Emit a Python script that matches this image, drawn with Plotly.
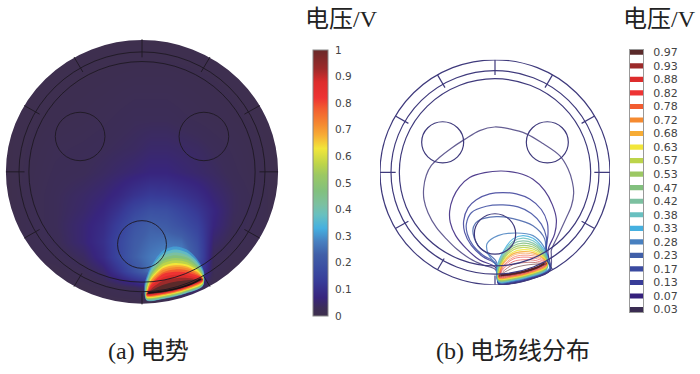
import math
import plotly.graph_objects as go

W, H = 700, 374

# ---- colours and legend values ----
LEVELS = ["0.97", "0.93", "0.88", "0.82", "0.78", "0.72", "0.68", "0.63", "0.57", "0.53",
          "0.47", "0.42", "0.38", "0.33", "0.28", "0.23", "0.17", "0.13", "0.07", "0.03"]
LEVEL_COLORS = ["#5a2a2a", "#9c2a2a", "#dd2c2c", "#ee3333", "#f25c30", "#f58a30", "#f7ac35",
                "#f2e63a", "#bcd44a", "#9cc863", "#82c07e", "#7cc0a0", "#68c0c0", "#45b0e0",
                "#4880c0", "#405fa8", "#3a4aa0", "#383c98", "#35207c", "#3a2c52"]
COLORBAR_TICKS = [0, 0.1, 0.2, 0.3, 0.4, 0.5, 0.6, 0.7, 0.8, 0.9, 1]
COLORSCALE = [[0, "#3e2f4e"], [0.03, "#3c2d58"], [0.07, "#38257e"], [0.13, "#383c98"],
              [0.17, "#3a4aa0"], [0.23, "#405fa8"], [0.28, "#4880c0"], [0.33, "#45b0e0"],
              [0.38, "#68c0c0"], [0.42, "#7cc0a0"], [0.47, "#82c07e"], [0.53, "#9cc863"],
              [0.57, "#bcd44a"], [0.63, "#f2e63a"], [0.68, "#f7ac35"], [0.72, "#f58a30"],
              [0.78, "#f25c30"], [0.82, "#ee3333"], [0.88, "#dd2c2c"], [0.93, "#9c2a2a"],
              [1, "#6a2a2a"]]

# ---- potential field, background part (estimated by eye) ----
FIELD_X = [31, 36, 156, 226, 276, 316, 356, 396, 436, 476, 516, 556, 606, 716, 721]
FIELD_Y = [-9, -4, 196, 276, 336, 396, 436, 476, 516, 556, 596, 636, 676, 681]
FIELD_Z = [
    [0, 0, 0, 0, 0, 0, 0, 0, 0, 0, 0, 0, 0, 0, 0],
    [0, 0, 0, 0, 0, 0, 0, 0, 0, 0, 0, 0, 0, 0, 0],
    [0, 0, .01, .015, .02, .025, .03, .03, .03, .025, .02, .015, .01, 0, 0],
    [0, 0, .02, .025, .03, .035, .04, .05, .05, .045, .04, .03, .02, 0, 0],
    [0, 0, .025, .03, .04, .05, .06, .07, .07, .06, .05, .04, .025, 0, 0],
    [0, 0, .03, .045, .06, .08, .11, .13, .125, .11, .09, .06, .035, 0, 0],
    [0, 0, .03, .05, .075, .11, .16, .19, .185, .155, .12, .075, .035, 0, 0],
    [0, 0, .03, .06, .09, .14, .2, .23, .22, .19, .15, .07, .03, 0, 0],
    [0, 0, .025, .06, .1, .16, .22, .25, .26, .25, .18, .05, .02, 0, 0],
    [0, 0, .015, .04, .09, .16, .23, .27, .30, .30, .2, .03, .01, 0, 0],
    [0, 0, 0, .02, .05, .11, .19, .26, .3, .3, .17, .02, 0, 0, 0],
    [0, 0, 0, 0, .01, .02, .03, .06, .08, .08, .05, 0, 0, 0, 0],
    [0, 0, 0, 0, 0, 0, 0, 0, 0, 0, 0, 0, 0, 0, 0],
    [0, 0, 0, 0, 0, 0, 0, 0, 0, 0, 0, 0, 0, 0, 0],
]

# ---- traced open isolines, low levels: (x list, y list) ----
LINE_003_X = [378, 340, 300, 262, 230, 200, 175, 163, 162, 170, 185, 210, 245, 285, 330, 375, 420, 470, 520, 570,
              595, 608, 612, 605, 590, 570, 545, 545]
LINE_003_Y = [635, 620, 600, 572, 540, 505, 460, 420, 385, 345, 315, 290, 262, 235, 208, 197, 203, 218, 248, 285,
              325, 365, 400, 440, 475, 520, 575, 590]
LINE_007_X = [378, 330, 290, 258, 242, 240, 250, 270, 300, 345, 395, 445, 490, 525, 548, 560, 555, 535]
LINE_007_Y = [628, 605, 570, 530, 490, 455, 415, 380, 352, 337, 332, 338, 357, 392, 435, 480, 525, 575]
LINE_013_X = [378, 340, 305, 285, 282, 295, 320, 360, 400, 440, 480, 515, 533, 535, 530]
LINE_013_Y = [618, 595, 560, 520, 485, 445, 420, 402, 398, 402, 418, 450, 490, 525, 575]
LINE_017_X = [378, 340, 310, 293, 290, 305, 350, 400, 445, 485, 515, 530, 530]
LINE_017_Y = [615, 590, 560, 525, 495, 460, 440, 436, 442, 462, 495, 535, 578]
LINE_023_X = [380, 325, 310, 325, 380, 430, 490, 525, 528]
LINE_023_Y = [610, 560, 510, 485, 472, 478, 500, 540, 585]
LINE_028_X = [383, 355, 352, 385, 440, 490, 520, 533]
LINE_028_Y = [628, 585, 555, 530, 522, 530, 560, 595]

# bottom stations under the electrode for those six levels
LOW_BOTTOM_X = [540, 480, 430, 388]
BOTTOM_003 = [638, 664, 676, 680]
BOTTOM_007 = [637, 663, 675, 679]
BOTTOM_013 = [635, 661, 673, 677]
BOTTOM_017 = [634, 660, 672, 676]
BOTTOM_023 = [632, 658, 670, 674]
BOTTOM_028 = [630, 657, 669, 673]

# ---- traced closed isolines, high levels: y at fixed x stations ----
ARCH_X = [400, 430, 460, 490, 515]
ARCH_Y = {
    "0.33": [580, 540, 530, 538, 562], "0.38": [586, 548, 538, 546, 568],
    "0.42": [592, 555, 546, 553, 573], "0.47": [597, 562, 553, 559, 578],
    "0.53": [602, 568, 560, 565, 583], "0.57": [606, 574, 566, 571, 587],
    "0.63": [611, 581, 573, 577, 591], "0.68": [615, 586, 579, 582, 595],
    "0.72": [619, 591, 584, 587, 598], "0.78": [624, 597, 590, 592, 602],
    "0.82": [628, 602, 596, 598, 606], "0.88": [633, 610, 604, 605, 611],
    "0.93": [640, 619, 613, 612, 615], "0.97": [645, 630, 622, 618, 617],
}
FOOT_LEFT = {
    "0.33": (382, 632), "0.38": (384, 634), "0.42": (385, 636), "0.47": (386, 637),
    "0.53": (387, 638), "0.57": (388, 640), "0.63": (389, 641), "0.68": (390, 642),
    "0.72": (390, 643), "0.78": (391, 644), "0.82": (392, 645), "0.88": (392, 647),
    "0.93": (393, 648), "0.97": (394, 650),
}
FOOT_RIGHT = {
    "0.33": (533, 595), "0.38": (532, 598), "0.42": (531, 600), "0.47": (530, 602),
    "0.53": (530, 604), "0.57": (529, 606), "0.63": (529, 607), "0.68": (528, 608),
    "0.72": (528, 609), "0.78": (527, 610), "0.82": (527, 611), "0.88": (526, 612),
    "0.93": (526, 613), "0.97": (525, 614),
}
BOTTOM_X = [530, 480, 430, 388]
BOTTOM_Y = {
    "0.33": [634, 655, 667, 671], "0.38": [633, 654, 666, 670], "0.42": [632, 653, 665, 669],
    "0.47": [630, 651, 663, 667], "0.53": [628, 650, 662, 666], "0.57": [627, 648, 660, 664],
    "0.63": [626, 647, 659, 663], "0.68": [623, 645, 657, 661], "0.72": [622, 644, 656, 660],
    "0.78": [620, 642, 654, 658], "0.82": [619, 641, 653, 657], "0.88": [617, 639, 651, 655],
    "0.93": [616, 638, 650, 654], "0.97": [615, 637, 649, 653],
}
ELECTRODE_X = [392, 420, 450, 480, 505, 525]
ELECTRODE_Y = [651, 648, 643, 635, 626, 615]

# ---- device geometry ----
CENTER = (376, 336)
RING_RADII = [345, 312, 287]
HOLES = [(219, 244, 63), (533, 244, 63), (376, 525, 62)]
SPOKE_ANGLES = [0, 30, 60, 90, 120, 150, 180, 210, 240, 270, 300, 330]
SPOKE_INNER = [298, 300, 300, 298, 300, 310, 316, 305, 300, 298, 300, 300]

CAPTION_A = "(a) 电势"
CAPTION_B = "(b) 电场线分布"
BAR_TITLE = "电压/V"
FONT = "Liberation Serif, Noto Sans CJK SC, serif"
HALO_OPACITY = {"0.33": 0.6, "0.38": 0.85}
THIN_LEVELS = ["0.97", "0.93", "0.88", "0.82", "0.78", "0.72"]


def level_path(lv):
    color = LEVEL_COLORS[LEVELS.index(lv)]
    if lv in ARCH_Y:
        xs = [FOOT_LEFT[lv][0]] + ARCH_X + [FOOT_RIGHT[lv][0]] + BOTTOM_X + [FOOT_LEFT[lv][0]]
        ys = [FOOT_LEFT[lv][1]] + ARCH_Y[lv] + [FOOT_RIGHT[lv][1]] + BOTTOM_Y[lv] + [FOOT_LEFT[lv][1]]
    else:
        table = {"0.03": (LINE_003_X, LINE_003_Y, BOTTOM_003), "0.07": (LINE_007_X, LINE_007_Y, BOTTOM_007),
                 "0.13": (LINE_013_X, LINE_013_Y, BOTTOM_013), "0.17": (LINE_017_X, LINE_017_Y, BOTTOM_017),
                 "0.23": (LINE_023_X, LINE_023_Y, BOTTOM_023), "0.28": (LINE_028_X, LINE_028_Y, BOTTOM_028)}
        lx, ly, by = table[lv]
        xs = lx + LOW_BOTTOM_X + [lx[0]]
        ys = ly + by + [ly[0]]
    return xs, ys, color


fig = go.Figure()

# left panel: smooth background, then filled high levels
fig.add_trace(go.Heatmap(
    x=FIELD_X, y=FIELD_Y, z=FIELD_Z, zmin=0, zmax=1, zsmooth="best",
    colorscale=COLORSCALE, xaxis="x", yaxis="y", hoverinfo="skip",
    colorbar=dict(x=313 / W, xanchor="left", xref="paper", y=1 - 47 / H, yanchor="top", yref="paper",
                  len=266, lenmode="pixels", thickness=15, thicknessmode="pixels",
                  xpad=0, ypad=0, tickvals=COLORBAR_TICKS, ticktext=[str(t) for t in COLORBAR_TICKS],
                  ticks="outside", ticklen=5, tickcolor="rgba(0,0,0,0)", outlinecolor="#888", outlinewidth=1,
                  tickfont=dict(family="DejaVu Sans", size=10.5, color="#444")),
))
for lv in reversed(LEVELS[:14]):
    xs, ys, color = level_path(lv)
    fig.add_trace(go.Scatter(x=xs, y=ys, mode="lines", fill="toself", fillcolor=color,
                             opacity=HALO_OPACITY.get(lv, 1),
                             line=dict(width=0, color=color, shape="spline", smoothing=0.8),
                             xaxis="x", yaxis="y", hoverinfo="skip", showlegend=False))
fig.add_trace(go.Scatter(x=ELECTRODE_X, y=ELECTRODE_Y, mode="lines",
                         line=dict(color="#1c0f14", width=1.6, shape="spline"),
                         xaxis="x", yaxis="y", hoverinfo="skip", showlegend=False))

# right panel: isolines
for lv in reversed(LEVELS):
    xs, ys, color = level_path(lv)
    if lv == "0.03":
        color = "#4a4280"
    fig.add_trace(go.Scatter(x=xs, y=ys, mode="lines", opacity=0.85,
                             line=dict(width=0.7 if lv in THIN_LEVELS else 1.2, color=color,
                                       shape="spline", smoothing=1.0),
                             xaxis="x2", yaxis="y2", hoverinfo="skip", showlegend=False))
fig.add_trace(go.Scatter(x=ELECTRODE_X, y=ELECTRODE_Y, mode="lines",
                         line=dict(color="#5a1f22", width=2.2, shape="spline"),
                         xaxis="x2", yaxis="y2", hoverinfo="skip", showlegend=False))

# right colour legend
fig.add_trace(go.Bar(y=LEVELS, x=[1] * len(LEVELS), orientation="h", width=0.38,
                     marker=dict(color=LEVEL_COLORS, line=dict(width=0)),
                     xaxis="x3", yaxis="y3", hoverinfo="skip", showlegend=False))

shapes = []
# white mask around the left disc
mask_r = 434
shapes.append(dict(type="circle", xref="x", yref="y", layer="above",
                   x0=CENTER[0] - mask_r, x1=CENTER[0] + mask_r, y0=CENTER[1] - mask_r, y1=CENTER[1] + mask_r,
                   line=dict(color="white", width=70), fillcolor="rgba(0,0,0,0)"))


def outlines(xr, yr, color, width, rings):
    out = []
    for r in rings:
        out.append(dict(type="circle", xref=xr, yref=yr, layer="above",
                        x0=CENTER[0] - r, x1=CENTER[0] + r, y0=CENTER[1] - r, y1=CENTER[1] + r,
                        line=dict(color=color, width=width)))
    for cx, cy, r in HOLES:
        out.append(dict(type="circle", xref=xr, yref=yr, layer="above",
                        x0=cx - r, x1=cx + r, y0=cy - r, y1=cy + r,
                        line=dict(color=color, width=width)))
    for ang, rin in zip(SPOKE_ANGLES, SPOKE_INNER):
        s, c = math.sin(math.radians(ang)), math.cos(math.radians(ang))
        out.append(dict(type="line", xref=xr, yref=yr, layer="above",
                        x0=CENTER[0] + rin * s, y0=CENTER[1] - rin * c,
                        x1=CENTER[0] + 345 * s, y1=CENTER[1] - 345 * c,
                        line=dict(color=color, width=width)))
    return out


# the left disc has no dark outer outline, only its two inner rings
shapes += outlines("x", "y", "#1e1822", 0.9, RING_RADII[1:])
shapes += outlines("x2", "y2", "#3f3a7c", 1.2, RING_RADII)


def dom_x(a, b):
    return [a / W, b / W]


def dom_y(top, bottom):
    return [1 - bottom / H, 1 - top / H]


hidden = dict(visible=False, showgrid=False, zeroline=False, fixedrange=True)


def label(text, px, py, size):
    return dict(text=text, x=px / W, y=1 - py / H, xref="paper", yref="paper", showarrow=False,
                xanchor="center", yanchor="middle", font=dict(family=FONT, size=size, color="#222"))


annos = [label(BAR_TITLE, 341, 15, 24), label(BAR_TITLE, 659, 15, 24),
         label(CAPTION_A, 148, 355, 24), label(CAPTION_B, 513, 355, 24)]
fig.update_layout(
    width=W, height=H, margin=dict(l=0, r=0, t=0, b=0), autosize=False,
    paper_bgcolor="white", plot_bgcolor="white", showlegend=False,
    shapes=shapes, annotations=annos,
    xaxis=dict(domain=dom_x(0, 284), range=[15.8, 736.2], **hidden),
    yaxis=dict(domain=dom_y(30, 313), range=[696.3, -24.3], **hidden),
    xaxis2=dict(domain=dom_x(380, 610), range=[31, 721], anchor="y2", **hidden),
    yaxis2=dict(domain=dom_y(57, 287), range=[681, -9], anchor="x2", **hidden),
    xaxis3=dict(domain=dom_x(630, 643), range=[0, 1], anchor="y3", showgrid=False, zeroline=False,
                showticklabels=False, ticks="", showline=True, mirror=True, linecolor="#999", linewidth=1.3),
    yaxis3=dict(domain=dom_y(47, 315), range=[19.2, -0.17], type="category",
                categoryorder="array", categoryarray=LEVELS, anchor="x3", side="right",
                showgrid=False, zeroline=False, ticks="outside", ticklen=7, tickcolor="rgba(0,0,0,0)",
                showline=True, mirror=True,
                linecolor="#999", linewidth=1.3, tickfont=dict(family="DejaVu Sans", size=11, color="#444")),
)
fig.write_html("out.html", post_script="document.body.style.margin='0';",
               config={"displayModeBar": False})
